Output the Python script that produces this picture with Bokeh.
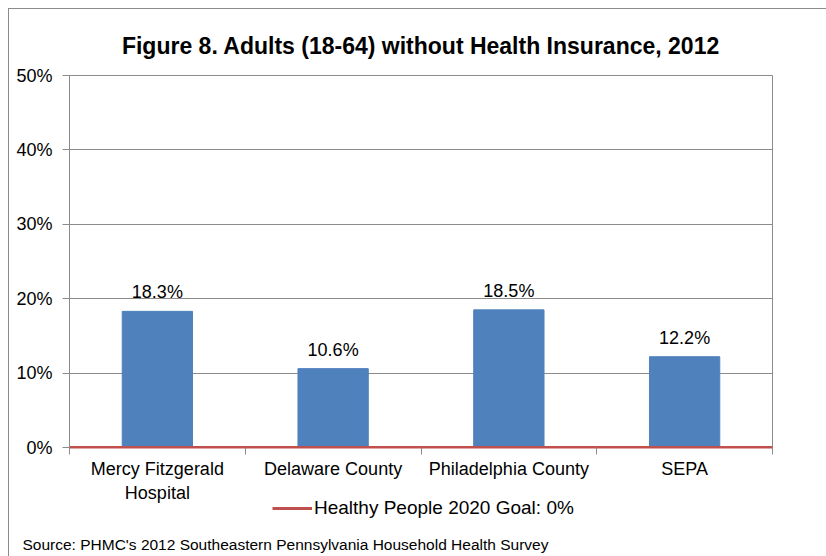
import numpy as np
from bokeh.plotting import figure
from bokeh.layouts import column
from bokeh.models import (Range1d, FixedTicker, NumeralTickFormatter, Legend, LegendItem,
                          ColumnDataSource, LabelSet, Label)
from bokeh.core.properties import value
from bokeh.embed import file_html
from bokeh.resources import INLINE

categories = ["Mercy Fitzgerald\nHospital", "Delaware County", "Philadelphia County", "SEPA"]
values = [0.183, 0.106, 0.185, 0.122]
value_labels = ["18.3%", "10.6%", "18.5%", "12.2%"]
goal = 0.0
goal_label = "Healthy People 2020 Goal: 0%"
y_ticks = [0.0, 0.1, 0.2, 0.3, 0.4, 0.5]
title_text = "Figure 8. Adults (18-64) without Health Insurance, 2012"
source_text = "Source: PHMC's 2012 Southeastern Pennsylvania Household Health Survey"

n = len(categories)
centers = list(np.arange(n) + 0.5)
bounds = list(np.arange(n + 1).astype(float))

FONT = "Liberation Sans"
GRAY = "#8c8c8c"
RED = "#C0504D"
BORDER = "1px solid #8c8c8c"

p = figure(frame_width=702, frame_height=371, output_backend="svg", toolbar_location=None,
           x_range=Range1d(0, n), y_range=Range1d(0, 0.5),
           min_border_left=60, min_border_right=55, min_border_top=66, min_border_bottom=0)
p.styles = {"border-left": BORDER, "border-top": BORDER, "margin-left": "8px", "margin-top": "8px"}

p.title.text = title_text
p.title.text_font = FONT
p.title.text_font_size = "23px"
p.title.text_font_style = "bold"
p.title.align = "center"
p.title.offset = -8
p.title.text_color = "#000000"
p.title.standoff = 34

src = ColumnDataSource(dict(x=centers, top=values, lab=value_labels))
p.vbar(x="x", top="top", width=0.4, source=src, fill_color="#4F81BD", line_color="#4F81BD")

labels = LabelSet(x="x", y="top", text="lab", source=src, text_align="center",
                  text_baseline="bottom", y_offset=9, text_font=value(FONT),
                  text_font_size="18px", text_color="#000000")
p.add_layout(labels)

p.line(x=[p.x_range.start, p.x_range.end], y=[goal, goal], line_color=RED, line_width=3)

# axes
xa = p.xaxis[0]
xa.ticker = FixedTicker(ticks=centers, minor_ticks=bounds)
xa.major_label_overrides = {c: lab for c, lab in zip(centers, categories)}
xa.major_tick_line_color = None
xa.minor_tick_in = 0
xa.minor_tick_out = 7
xa.minor_tick_line_color = GRAY
xa.axis_line_color = RED
xa.axis_line_width = 2
xa.major_label_text_font = FONT
xa.major_label_text_font_size = "18px"
xa.major_label_text_color = "#000000"
xa.major_label_standoff = 4

ya = p.yaxis[0]
ya.ticker = FixedTicker(ticks=y_ticks)
ya.formatter = NumeralTickFormatter(format="0%")
ya.major_tick_in = 0
ya.major_tick_out = 7
ya.major_tick_line_color = GRAY
ya.minor_tick_line_color = None
ya.axis_line_color = GRAY
ya.major_label_text_font = FONT
ya.major_label_text_font_size = "18px"
ya.major_label_text_color = "#000000"
ya.major_label_standoff = 10

p.xgrid.grid_line_color = None
p.ygrid.grid_line_color = GRAY
p.ygrid.ticker = FixedTicker(ticks=y_ticks)
p.outline_line_color = GRAY
p.background_fill_color = "white"
p.border_fill_color = "white"

# lower strip: legend and source note (overlaps the chart's bottom edge, transparent)
p2 = figure(width=817, height=64, output_backend="svg", toolbar_location=None,
            x_range=Range1d(0, n), y_range=Range1d(1, 2),
            x_axis_type=None, y_axis_type=None, min_border=0)
p2.frame_align = False
p2.styles = {"border-left": BORDER, "margin-left": "8px", "margin-top": "-12px"}
p2.grid.grid_line_color = None
p2.outline_line_color = None
p2.background_fill_alpha = 0
p2.border_fill_alpha = 0
gl = p2.line(x=[p2.x_range.start, p2.x_range.end], y=[goal, goal], line_color=RED, line_width=3)

legend = Legend(items=[LegendItem(label=goal_label, renderers=[gl])],
                location=(263, 37), orientation="horizontal",
                border_line_color=None, background_fill_alpha=0,
                glyph_width=40, glyph_height=18, label_height=18,
                label_standoff=2, padding=0, margin=0,
                label_text_font=FONT, label_text_font_size="19px", label_text_color="#000000")
p2.add_layout(legend, "center")

p2.add_layout(Label(x=13, y=12, x_units="screen", y_units="screen", text=source_text,
                    text_baseline="middle", text_font=FONT, text_font_size="15.5px",
                    text_color="#000000"))

layout = column(p, p2, spacing=0)
open("out.html", "w").write(file_html(layout, INLINE))
